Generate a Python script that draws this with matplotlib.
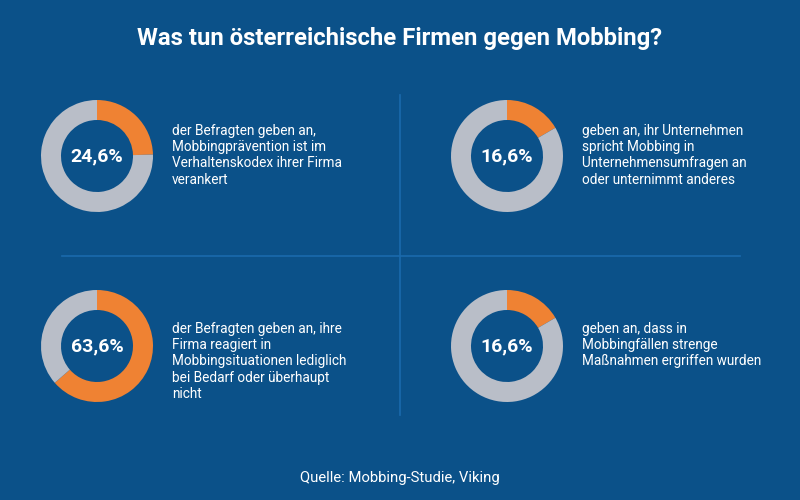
import matplotlib.pyplot as plt

plt.rcParams['font.family'] = ['Roboto', 'DejaVu Sans']

BG = "#0b5189"
ORANGE = "#ef8233"
GREY = "#b9bec8"
DIVIDER = "#1a6aad"

TITLE = "Was tun österreichische Firmen gegen Mobbing?"
SOURCE = "Quelle: Mobbing-Studie, Viking"

# share of respondents per statement (percent)
values = [24.6, 16.6, 63.6, 16.6]
labels = ["24,6%", "16,6%", "63,6%", "16,6%"]
texts = [
    "der Befragten geben an,\nMobbingprävention ist im\nVerhaltenskodex ihrer Firma\nverankert",
    "geben an, ihr Unternehmen\nspricht Mobbing in\nUnternehmensumfragen an\noder unternimmt anderes",
    "der Befragten geben an, ihre\nFirma reagiert in\nMobbingsituationen lediglich\nbei Bedarf oder überhaupt\nnicht",
    "geben an, dass in\nMobbingfällen strenge\nMaßnahmen ergriffen wurden",
]

# layout in pixels from the top left corner
W, H = 800, 500
centers = [(97, 156), (507, 156), (97, 346), (507, 346)]
text_pos = [(172, 124), (582, 124), (172, 322), (582, 322)]
RADIUS = 56
RING = 20

fig = plt.figure(figsize=(8, 5), dpi=100, facecolor=BG)
ax = fig.add_axes([0, 0, 1, 1])
ax.set_facecolor(BG)

for val, lab, txt, (cx, cy), (tx, ty) in zip(values, labels, texts, centers, text_pos):
    ax.pie([val, 100 - val], colors=[ORANGE, GREY], startangle=90, counterclock=False,
           center=(cx, H - cy), radius=RADIUS, frame=True,
           wedgeprops=dict(width=RING, linewidth=0))
    ax.text(cx, H - cy, lab, ha='center', va='center', color='white',
            fontsize=14, fontweight='bold')
    ax.text(tx, H - ty, txt, ha='left', va='top', color='white',
            fontsize=9.8, linespacing=1.2)

# dividers
ax.plot([400, 400], [H - 95, H - 415], color=DIVIDER, linewidth=1.2)
ax.plot([62, 740], [H - 256, H - 256], color=DIVIDER, linewidth=1.2)

ax.text(400, H - 38, TITLE, ha='center', va='center', color='white',
        fontsize=17.2, fontweight='bold')
ax.text(400, H - 478, SOURCE, ha='center', va='center', color='white', fontsize=10.7)

ax.set_xlim(0, W)
ax.set_ylim(0, H)
ax.set_aspect('equal')
ax.axis('off')

plt.savefig("out.png", dpi=100, facecolor=BG)
